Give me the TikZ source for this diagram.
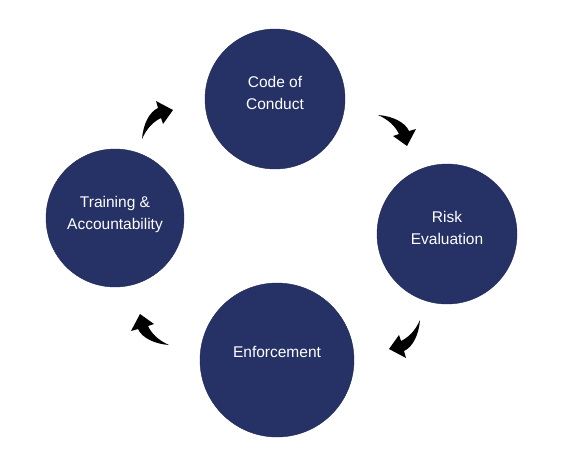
\documentclass[tikz,border=0pt]{standalone}
\usepackage{fontspec}
\setmainfont{Liberation Sans}
\definecolor{stagenavy}{RGB}{38,50,102}
\tikzset{
  stage/.style={circle, fill=stagenavy, draw=stagenavy!80!black, thin,
    minimum size=#1, inner sep=0pt},
  stagetext/.style={text=white, align=center, inner sep=0pt,
    font=\fontsize{15.5}{22}\selectfont},
  pics/bentarrow/.style={code={
    \fill[black] (-15,19) .. controls (-14,5) and (-8,-8) .. (1,-12)
      -- (-1,-19) -- (16,-10) -- (6,4) -- (4,-2)
      .. controls (-4,2) and (-10,8) .. cycle;
  }}
}
\begin{document}
\begin{tikzpicture}[x=1pt, y=-1pt]
    \useasboundingbox (0,0) rectangle (570,458);

    % Stages of the cycle
    \node[stage=140] (code) at (275,99) {};
    \node[stage=140] (risk) at (447,234) {};
    \node[stage=154] (enforce) at (277,360) {};
    \node[stage=138] (train) at (115,218) {};

    % Stage labels, sitting a little above centre
    \node[stagetext] (codetext) at ([yshift=6pt]code.center) {Code of\\Conduct};
    \node[stagetext] (risktext) at ([yshift=6pt]risk.center) {Risk\\Evaluation};
    \node[stagetext] (enforcetext) at ([yshift=8pt]enforce.center) {Enforcement};
    \node[stagetext] (traintext) at ([yshift=4pt]train.center) {Training \&\\Accountability};

    % Curved arrows between stages
    \foreach \pos/\ang in {{(157,120)}/0, {(397,130)}/-90, {(405,339)}/-180, {(150,330)}/-270}
        \pic[rotate=\ang] at \pos {bentarrow};

\end{tikzpicture}
\end{document}
